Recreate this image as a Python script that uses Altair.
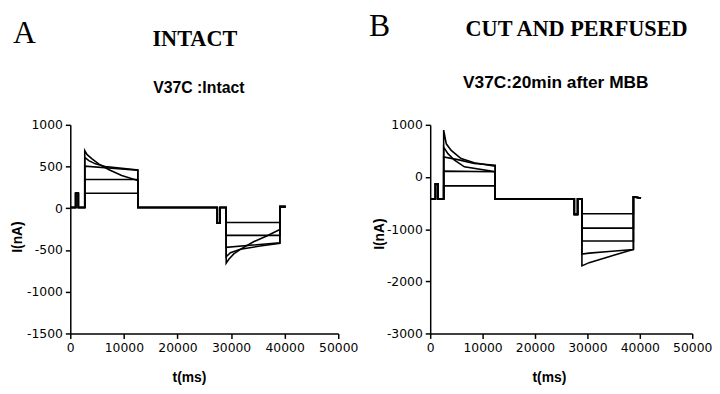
import altair as alt
import pandas as pd

# ---------------- Panel A (intact) ----------------
A_PRE_T = [0, 1000, 1000, 1500, 1500, 2700]
A_PRE_I = [10, 10, 180, 180, 10, 10]
A_MID_T = [12600, 27430, 27430, 27920, 27920, 29090]
A_MID_I = [10, 10, -180, -180, 10, 10]
A_TAIL_T = [39110, 40200]
A_TAIL_I = [20, 20]

A_POS_T = [
    [2700, 12600],
    [2700, 12600],
    [2700, 12600],
    [2700, 3450, 4680, 6520, 12600],
    [2700, 3140, 4060, 5290, 7140, 9590, 12600],
]
A_POS_I = [
    [180, 180],
    [345, 345],
    [505, 455],
    [610, 571, 532, 500, 460],
    [690, 643, 591, 532, 464, 393, 333],
]
A_NEG_T = [
    [29090, 39110],
    [29090, 39110],
    [29090, 39110],
    [29090, 29890, 31730, 35420, 39110],
    [29090, 29580, 30500, 32040, 34200, 36650, 39110],
]
A_NEG_I = [
    [-170, -170],
    [-325, -325],
    [-468, -413],
    [-580, -532, -492, -452, -420],
    [-658, -611, -547, -480, -401, -333, -254],
]

# ---------------- Panel B (cut and perfused) ----------------
B_PRE_T = [0, 1000, 1000, 1500, 1500, 2570]
B_PRE_I = [-420, -420, -132, -132, -420, -420]
B_MID_T = [12400, 27500, 27500, 28130, 28130, 28950]
B_MID_I = [-420, -420, -717, -717, -420, -420]
B_TAIL_T = [38780, 40230]
B_TAIL_I = [-383, -402]

B_POS_T = [
    [2570, 12400],
    [2570, 12400],
    [2570, 5260, 8400, 12400],
    [2570, 3380, 4640, 6520, 12400],
    [2570, 3070, 4010, 5890, 8400, 12400],
]
B_POS_I = [
    [-170, -170],
    [113, 100],
    [383, 333, 258, 226],
    [572, 447, 321, 195, 101],
    [900, 636, 509, 352, 271, 208],
]
B_NEG_T = [
    [28950, 38780],
    [28950, 38780],
    [28950, 38780],
    [28950, 30330, 34090, 38780],
    [28950, 30330, 32840, 35340, 38780],
]
B_NEG_I = [
    [-705, -705],
    [-981, -981],
    [-1227, -1227],
    [-1478, -1460, -1430, -1390],
    [-1704, -1642, -1566, -1491, -1390],
]

X_TICKS = [0, 10000, 20000, 30000, 40000, 50000]
A_Y_TICKS = [-1500, -1000, -500, 0, 500, 1000]
B_Y_TICKS = [-3000, -2000, -1000, 0, 1000]


def build(pre_t, pre_i, pos_t, pos_i, mid_t, mid_i, neg_t, neg_i, tail_t, tail_i):
    rows = []
    for k in range(len(pos_t)):
        ts = pre_t + pos_t[k] + mid_t + neg_t[k] + tail_t
        vs = pre_i + pos_i[k] + mid_i + neg_i[k] + tail_i
        for j, (t, v) in enumerate(zip(ts, vs)):
            rows.append({"t": t, "I": v, "trace": k, "idx": j})
    return pd.DataFrame(rows)


dfA = build(A_PRE_T, A_PRE_I, A_POS_T, A_POS_I, A_MID_T, A_MID_I,
            A_NEG_T, A_NEG_I, A_TAIL_T, A_TAIL_I)
dfB = build(B_PRE_T, B_PRE_I, B_POS_T, B_POS_I, B_MID_T, B_MID_I,
            B_NEG_T, B_NEG_I, B_TAIL_T, B_TAIL_I)


def label(text, x, y, font, size, weight="bold", align="center"):
    return alt.Chart(pd.DataFrame({"s": [text]})).mark_text(
        font=font, fontSize=size, fontWeight=weight, align=align,
        baseline="alphabetic", color="black"
    ).encode(text="s:N", x=alt.value(x), y=alt.value(y))


def panel(df, ydom, yticks, w, letter, head, sub, pos, subsize, ytx, yty, xtx):
    lines = alt.Chart(df).mark_line(color="black", strokeWidth=1.6,
                                    strokeJoin="miter").encode(
        x=alt.X("t:Q", scale=alt.Scale(domain=[0, 50000], nice=False),
                axis=alt.Axis(values=X_TICKS, title="t(ms)", titleX=xtx,
                              titleY=38, labelExpr="datum.value + ''",
                              labelOverlap=False, labelFlush=False)),
        y=alt.Y("I:Q", scale=alt.Scale(domain=ydom, nice=False),
                axis=alt.Axis(values=yticks, title="I(nA)", titleX=ytx,
                              titleY=yty, labelExpr="datum.value + ''",
                              labelOverlap=False, labelFlush=False)),
        detail="trace:N",
        order="idx:Q",
    )
    (lx, ly), (hx, hy), (sx, sy) = pos
    return alt.layer(
        lines,
        label(letter, lx, ly, "Liberation Serif", 32, "normal", "left"),
        label(head, hx, hy, "Liberation Serif", 22.5),
        label(sub, sx, sy, "Liberation Sans", subsize),
    ).properties(width=w, height=211)


left = panel(dfA, [-1500, 1000], A_Y_TICKS, 271, "A", "INTACT", "V37C :Intact",
             ((-58, -83), (126, -80), (130, -32)), 16, -46, 113, 120)
right = panel(dfB, [-3000, 1000], B_Y_TICKS, 265, "B", "CUT AND PERFUSED",
              "V37C:20min after MBB",
              ((-62, -90), (148, -90), (127, -37)), 17.5, -44, 110, 120)

chart = alt.hconcat(left, right, spacing=11).properties(
    padding={"left": 3, "top": 0, "right": 0, "bottom": 0},
    background="white",
).configure_view(stroke=None).configure_axis(
    domainColor="black", domainWidth=1.5, tickColor="black", tickWidth=1.5,
    tickSize=5, labelPadding=3, labelFont="DejaVu Sans", labelFontSize=12.5,
    labelColor="black", titleFont="Liberation Sans", titleFontWeight="bold",
    titleFontSize=14, titleColor="black", grid=False
)

chart.save("out.html", embed_options={"renderer": "svg", "actions": False})
